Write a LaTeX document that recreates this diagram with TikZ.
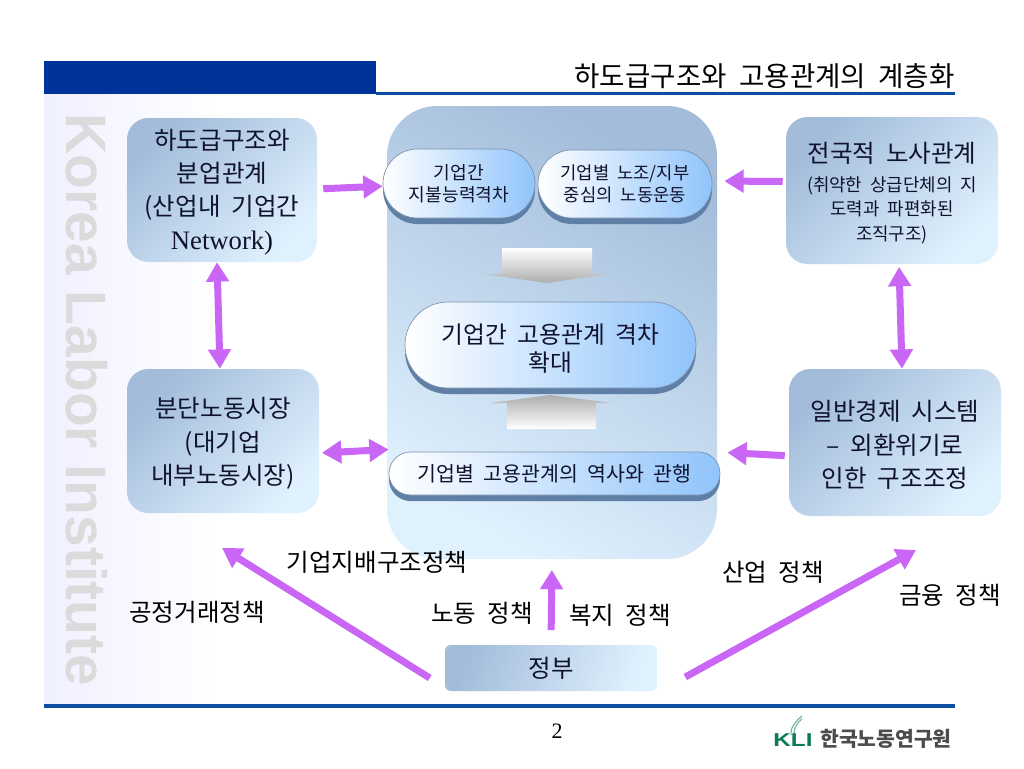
\documentclass[tikz,border=0pt]{standalone}
\usepackage{fontspec}
\setmainfont{Noto Sans CJK KR}[WordSpace=2]
\newfontfamily\serifpart{Liberation Serif}
\newfontfamily\sanspart{Liberation Sans}
\usetikzlibrary{arrows.meta}
\usetikzlibrary{shapes.misc}
\usetikzlibrary{shadows}
\definecolor{barblue}{HTML}{003399}
\definecolor{ruleblue}{HTML}{0B4EA2}
\definecolor{softdark}{HTML}{A2BCDA}
\definecolor{softlight}{HTML}{E0F1FE}
\definecolor{pillblue}{HTML}{90C4FB}
\definecolor{lipblue}{HTML}{5F7FA6}
\definecolor{pillline}{HTML}{7C92AC}
\definecolor{arrowpurple}{HTML}{C966F5}
\definecolor{inkblue}{HTML}{10122E}
\definecolor{logogreen}{HTML}{0A7A58}
\newcommand{\notesize}{\fontsize{13.4}{18.5}\selectfont}
\newcommand{\headsize}{\fontsize{18.4}{25}\selectfont}
\newcommand{\topstrut}[1]{\rule{0pt}{#1}}
\tikzset{
  softbox/.style={rectangle,rounded corners=16pt,inner sep=0pt,align=center,
    text=inkblue,top color=softdark,bottom color=softlight,shading angle=45,
    font=\headsize},
  pillbox/.style={rounded rectangle,inner sep=0pt,align=center,text=inkblue,
    draw=pillline,line width=0.5pt,left color=white,right color=pillblue,
    general shadow={fill=lipblue,shadow yshift=-4.5pt}},
  fatarrow/.style={draw=arrowpurple,line width=5.25pt,
    -{Triangle[length=14.5pt,width=16.5pt]}},
  fatboth/.style={draw=arrowpurple,line width=5.25pt,
    {Triangle[length=14.5pt,width=16.5pt]}-{Triangle[length=14.5pt,width=16.5pt]}},
  policy/.style={inner sep=0pt,font=\fontsize{18.4}{20}\selectfont}
}
\begin{document}
\begin{tikzpicture}[x=0.75pt,y=-0.75pt]
    \useasboundingbox (0,0) rectangle (1024,768);
    % Background
    \fill[white] (0,0) rectangle (1024,768);
    \shade[left color=softlight!30!blue!8!white,right color=white] (44,94) rectangle (222,705);
    \node[rotate=-90,text=black!14,inner sep=0pt,font=\fontsize{42.7}{44}\sanspart\bfseries]
      (watermark) at (87,400) {Korea Labor Institute};
    % Header and footer
    \fill[barblue] (44,61) rectangle (376,94);
    \fill[ruleblue] (376,92) rectangle (955,95);
    \fill[ruleblue] (44,704) rectangle (955,708);
    \node[left,inner sep=0pt,font=\fontsize{20.7}{22}\selectfont] (title) at (955,76)
      {하도급구조와 고용관계의 계층화};
    \node[inner sep=0pt,font=\fontsize{16.5}{20}\serifpart] (pagenum) at (557,731) {2};
    % Center panel
    \node[rectangle,rounded corners=37.5pt,minimum width=247.5pt,minimum height=339.75pt,
      top color=softdark,bottom color=softlight,shading angle=-30] (panel) at (552,332.5) {};
    % Outer boxes
    \node[softbox,minimum width=142.5pt,minimum height=108pt] (subcon) at (222,190)
      {\topstrut{18.2pt}하도급구조와\\분업관계\\(산업내 기업간\\{\fontsize{20}{25}\serifpart Network)}};
    \node[softbox,minimum width=144pt,minimum height=108pt] (segment) at (223,441)
      {\topstrut{19pt}분단노동시장\\(대기업\\내부노동시장)};
    \node[softbox,minimum width=159pt,minimum height=110.25pt,font=\notesize] (national) at (892,190.5)
      {\topstrut{19pt}{\headsize 전국적 노사관계}\\[3pt]\notesize (취약한 상급단체의 지\\
      \notesize 도력과 파편화된\\\notesize 조직구조)};
    \node[softbox,minimum width=159pt,minimum height=110.25pt] (economy) at (895,442.5)
      {\topstrut{19pt}일반경제 시스템\\– 외환위기로\\인한 구조조정};
    \node[softbox,minimum width=159pt,minimum height=34.5pt,rounded corners=4.5pt,
      shading angle=70] (gov) at (551,668) {정부};
    % Pills
    \node[pillbox,minimum width=114pt,minimum height=51.75pt,
      font=\fontsize{13.6}{16.5}\selectfont] (ability) at (459,183.5)
      {기업간\\지불능력격차};
    \node[pillbox,minimum width=130.5pt,minimum height=51pt,
      font=\fontsize{13.3}{16.5}\selectfont] (union) at (625,184)
      {기업별 노조/지부\\중심의 노동운동};
    \node[pillbox,minimum width=218.25pt,minimum height=64.5pt,
      font=\fontsize{17.8}{20.5}\selectfont] (gap) at (550.5,345)
      {\topstrut{20pt}기업간 고용관계 격차\\확대};
    \node[pillbox,minimum width=248.25pt,minimum height=32.25pt,
      font=\fontsize{15.4}{17}\selectfont] (history) at (554.5,473.5)
      {기업별 고용관계의 역사와 관행};
    % Block arrows
    \shade[top color=white,bottom color=black!32]
      (502,248) -- (592,248) -- (592,274) -- (608,274) -- (547,283) -- (483,274)
      -- (502,274) -- cycle;
    \shade[top color=black!32,bottom color=white]
      (550,395) -- (612,403) -- (596,403) -- (596,429) -- (507,429) -- (507,403)
      -- (490,403) -- cycle;
    % Connectors
    \draw[fatarrow,shorten <=4.5pt] ([yshift=0.75pt]subcon.east) -- ([yshift=-2pt]ability.west);
    \draw[fatarrow,shorten <=2.25pt,shorten >=9pt] ([yshift=6.75pt]national.west) -- ([yshift=2.25pt]union.east);
    \draw[fatboth] ([xshift=-3.75pt]subcon.south) -- ([xshift=-2.25pt]segment.north);
    \draw[fatboth,shorten <=2pt] ([yshift=-9pt]segment.east) -- ([yshift=18pt]history.west);
    \draw[fatboth,shorten <=2pt] ([xshift=5.25pt]national.south) -- ([xshift=5.25pt]economy.north);
    \draw[fatarrow,shorten <=3pt,shorten >=5.25pt] ([yshift=-10pt]economy.west) -- ([yshift=16pt]history.east);
    \draw[fatarrow,shorten <=11pt,shorten >=8pt] (gov.north) -- (panel.south);
    \coordinate (fairend) at (222,548);
    \coordinate (financeend) at (916,550);
    \draw[fatarrow] ([xshift=-11.25pt,yshift=-7.5pt]gov.west) -- (fairend);
    \draw[fatarrow] ([xshift=21pt,yshift=-6.75pt]gov.east) -- (financeend);
    % Policy labels
    \node[policy] (fair) at (197,612) {공정거래정책};
    \node[policy] (owner) at (377,562) {기업지배구조정책};
    \node[policy] (labor) at (482,613) {노동 정책};
    \node[policy] (welfare) at (620,615) {복지 정책};
    \node[policy] (industry) at (773,572) {산업 정책};
    \node[policy] (finance) at (950,595) {금융 정책};
    % Logo
    \draw[logogreen!60,line width=0.8pt] (791,735) .. controls (790,728) and (795,722) .. (802,716);
    \draw[logogreen!60,line width=0.8pt] (794,733) .. controls (794,727) and (798,722) .. (802,719);
    \node[inner sep=0pt,xscale=1.3,text=logogreen,font=\fontsize{14}{16}\sanspart\bfseries]
      (kli) at (793,740) {KLI};
    \node[right,inner sep=0pt,text=black!70,font=\fontsize{15.3}{16}\selectfont\bfseries]
      (kliname) at (820,739) {한국노동연구원};
\end{tikzpicture}
\end{document}
